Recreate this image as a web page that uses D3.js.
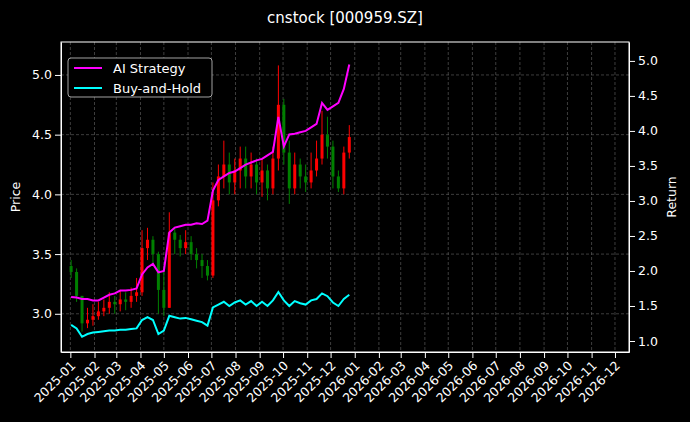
<!DOCTYPE html>
<html>
<head>
<meta charset="utf-8">
<script src="https://cdn.jsdelivr.net/npm/d3@7"></script>
<style>
  body { margin: 0; background: #000; }
  text { font-family: "DejaVu Sans", sans-serif; }
</style>
</head>
<body>
<div id="chart"></div>
<script>
// weekly candles, one per Thursday of 2025
const dates = d3.timeThursday.range(new Date(2025, 0, 1), new Date(2025, 11, 31));

const closes = [
  3.35, 3.15, 2.92, 2.95, 2.98,
  3.02, 3.05, 3.10, 3.08,
  3.12, 3.10, 3.15, 3.18,
  3.55, 3.62, 3.50, 3.20,
  3.05, 3.68, 3.62, 3.55, 3.60,
  3.50, 3.45, 3.40, 3.32,
  3.95, 4.15, 4.25, 4.10, 4.20,
  4.30, 4.15, 4.25, 4.10,
  4.20, 4.05, 4.30, 4.75,
  4.35, 4.05, 4.25, 4.15, 4.10,
  4.20, 4.30, 4.50, 4.40,
  4.15, 4.05, 4.35, 4.48
];
const firstOpen = 3.40;
const highs = [
  3.45, 3.38, 3.15, 3.05, 3.08,
  3.10, 3.12, 3.18, 3.15,
  3.20, 3.18, 3.22, 3.30,
  3.70, 3.72, 3.65, 3.52,
  3.40, 3.85, 3.72, 3.66, 3.70,
  3.65, 3.55, 3.50, 3.45,
  4.10, 4.25, 4.45, 4.35, 4.30,
  4.40, 4.40, 4.35, 4.30,
  4.30, 4.25, 4.40, 5.08,
  4.80, 4.45, 4.35, 4.30, 4.25,
  4.35, 4.45, 4.70, 4.65,
  4.45, 4.20, 4.40, 4.58
];
const lows = [
  3.30, 3.10, 2.85, 2.88, 2.90,
  2.95, 2.98, 3.00, 3.00,
  3.02, 3.03, 3.05, 3.10,
  3.15, 3.45, 3.40, 3.00,
  2.98, 3.05, 3.50, 3.48, 3.50,
  3.45, 3.38, 3.30, 3.28,
  3.30, 3.90, 4.05, 4.00, 4.00,
  4.05, 4.05, 4.05, 4.00,
  3.98, 3.95, 4.00, 4.20,
  4.25, 3.92, 4.00, 4.05, 4.02,
  4.05, 4.15, 4.25, 4.30,
  4.05, 4.02, 4.00, 4.30
];
const aiReturn = [
  1.63, 1.62, 1.60, 1.60, 1.58,
  1.58, 1.62, 1.66, 1.68,
  1.72, 1.72, 1.73, 1.75,
  1.95, 2.05, 2.10, 1.98,
  2.00, 2.55, 2.62, 2.64, 2.66,
  2.66, 2.68, 2.67, 2.72,
  3.15, 3.30, 3.35, 3.40, 3.42,
  3.47, 3.52, 3.55, 3.58,
  3.60, 3.65, 3.70, 4.20,
  3.78, 3.95, 3.96, 3.98, 4.00,
  4.05, 4.10, 4.40, 4.30,
  4.35, 4.40, 4.60, 4.95
];
const holdReturn = [
  1.23, 1.18, 1.06, 1.10, 1.12,
  1.13, 1.14, 1.15, 1.15,
  1.16, 1.16, 1.17, 1.18,
  1.30, 1.34, 1.30, 1.10,
  1.15, 1.36, 1.34, 1.32, 1.33,
  1.31, 1.29, 1.27, 1.22,
  1.48, 1.52, 1.56, 1.50, 1.55,
  1.58, 1.52, 1.57, 1.50,
  1.56, 1.50, 1.58, 1.70,
  1.58, 1.50, 1.57, 1.54, 1.52,
  1.58, 1.60, 1.68, 1.64,
  1.55, 1.50, 1.60, 1.66
];
const priceTicks = [3.0, 3.5, 4.0, 4.5, 5.0];
const returnTicks = [1.0, 1.5, 2.0, 2.5, 3.0, 3.5, 4.0, 4.5, 5.0];

const W = 690, H = 422;
const margin = { top: 42, right: 61, bottom: 70, left: 61 };
const iw = W - margin.left - margin.right;
const ih = H - margin.top - margin.bottom;

const svg = d3.select("#chart").append("svg")
  .attr("width", W).attr("height", H)
  .style("background", "#000");

const g = svg.append("g").attr("transform", `translate(${margin.left},${margin.top})`);

const x = d3.scaleTime()
  .domain([new Date(2024, 11, 20), new Date(2026, 11, 19)])
  .range([0, iw]);
const y = d3.scaleLinear().domain([2.68, 5.276]).range([ih, 0]);
const yR = d3.scaleLinear().domain([0.843, 5.27]).range([ih, 0]);

const monthTicks = d3.timeMonth.range(new Date(2025, 0, 1), new Date(2027, 0, 1));

// grid
g.append("g").selectAll("line").data(monthTicks).join("line")
  .attr("x1", d => x(d)).attr("x2", d => x(d))
  .attr("y1", 0).attr("y2", ih)
  .attr("stroke", "#666").attr("stroke-width", 0.6).attr("stroke-dasharray", "3,2");
g.append("g").selectAll("line").data(priceTicks).join("line")
  .attr("x1", 0).attr("x2", iw)
  .attr("y1", d => y(d)).attr("y2", d => y(d))
  .attr("stroke", "#666").attr("stroke-width", 0.6).attr("stroke-dasharray", "3,2");

// candles
const candles = closes.map((c, i) => ({
  date: dates[i], open: i === 0 ? firstOpen : closes[i - 1], close: c, high: highs[i], low: lows[i]
}));
const cg = g.append("g").selectAll("g").data(candles).join("g");
cg.append("line")
  .attr("x1", d => x(d.date)).attr("x2", d => x(d.date))
  .attr("y1", d => y(d.high)).attr("y2", d => y(d.low))
  .attr("stroke", d => d.close >= d.open ? "red" : "green").attr("stroke-width", 1);
cg.append("rect")
  .attr("x", d => x(d.date) - 1.5).attr("width", 3)
  .attr("y", d => y(Math.max(d.open, d.close)))
  .attr("height", d => Math.max(1, Math.abs(y(d.open) - y(d.close))))
  .attr("fill", d => d.close >= d.open ? "red" : "green");

// return lines
const line = d3.line().x((d, i) => x(dates[i])).y(d => yR(d));
g.append("path").datum(holdReturn).attr("d", line)
  .attr("fill", "none").attr("stroke", "#00ffff").attr("stroke-width", 2);
g.append("path").datum(aiReturn).attr("d", line)
  .attr("fill", "none").attr("stroke", "#ff00ff").attr("stroke-width", 2);

// axes
const styleAxis = sel => {
  sel.selectAll("path, line").attr("stroke", "#fff");
  sel.selectAll("text").attr("fill", "#fff").style("font-size", "12.5px");
};
g.append("g").attr("transform", `translate(0,${ih})`)
  .call(d3.axisBottom(x).tickValues(monthTicks).tickFormat(d3.timeFormat("%Y-%m")).tickSizeOuter(0))
  .call(styleAxis)
  .selectAll("text")
  .attr("transform", "rotate(-45)")
  .attr("dx", "-0.5em").attr("dy", "0.4em")
  .style("text-anchor", "end");
g.append("g")
  .call(d3.axisLeft(y).tickValues(priceTicks).tickFormat(d3.format(".1f")).tickSizeOuter(0))
  .call(styleAxis);
g.append("g").attr("transform", `translate(${iw},0)`)
  .call(d3.axisRight(yR).tickValues(returnTicks).tickFormat(d3.format(".1f")).tickSizeOuter(0))
  .call(styleAxis);
g.append("rect").attr("width", iw).attr("height", ih)
  .attr("fill", "none").attr("stroke", "#fff").attr("stroke-width", 1);

// labels
svg.append("text").attr("x", W / 2).attr("y", 23).attr("text-anchor", "middle")
  .attr("fill", "#fff").style("font-size", "15px").text("cnstock [000959.SZ]");
svg.append("text").attr("transform", `translate(20,${margin.top + ih / 2}) rotate(-90)`)
  .attr("text-anchor", "middle").attr("fill", "#fff").style("font-size", "12.5px").text("Price");
svg.append("text").attr("transform", `translate(676,${margin.top + ih / 2}) rotate(-90)`)
  .attr("text-anchor", "middle").attr("fill", "#fff").style("font-size", "12.5px").text("Return");

// legend
const legend = g.append("g").attr("transform", "translate(7,16)");
legend.append("rect").attr("width", 144).attr("height", 39).attr("rx", 3)
  .attr("fill", "#000").attr("stroke", "#ccc").attr("stroke-width", 0.8);
[["AI Strategy", "#ff00ff"], ["Buy-and-Hold", "#00ffff"]].forEach(([name, color], i) => {
  legend.append("line").attr("x1", 6).attr("x2", 34).attr("y1", 10 + i * 20).attr("y2", 10 + i * 20)
    .attr("stroke", color).attr("stroke-width", 2);
  legend.append("text").attr("x", 45).attr("y", 14.5 + i * 20).attr("fill", "#fff")
    .style("font-size", "13px").text(name);
});
</script>
</body>
</html>
